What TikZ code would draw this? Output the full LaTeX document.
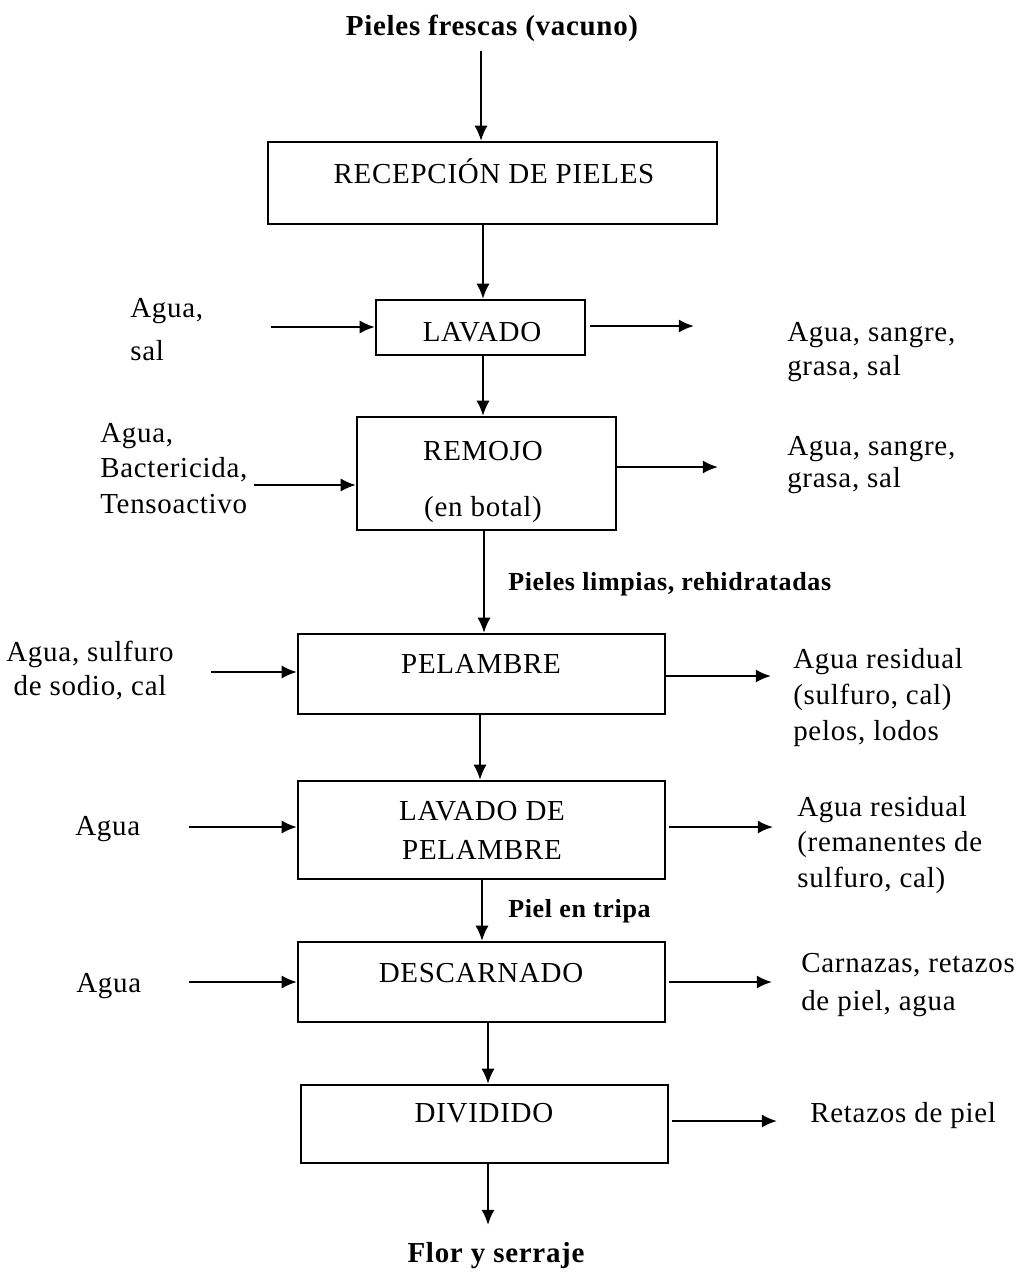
\documentclass[tikz,border=0pt]{standalone}
\usepackage{fontspec}
\setmainfont{Liberation Serif}[LetterSpace=2.5]
\usetikzlibrary{arrows.meta}
\newcommand{\txtsz}[1]{\fontsize{20.6pt}{#1}\selectfont}
\newcommand{\smallbold}{\fontsize{18.5pt}{22pt}\selectfont\bfseries}
\begin{document}
\begin{tikzpicture}[x=0.025cm, y=-0.025cm,
  proc/.style={draw, line width=1.5pt, inner sep=0pt},
  boxtxt/.style={font=\txtsz{25.6pt}, align=center, anchor=base, inner sep=0pt},
  side/.style={font=\txtsz{#1}, align=left, anchor=base west, inner sep=0pt},
  sidec/.style={font=\txtsz{#1}, align=center, anchor=base, inner sep=0pt},
  flowlbl/.style={font=\smallbold, anchor=base west, inner sep=0pt},
  endlbl/.style={font=\txtsz{25pt}\bfseries, anchor=base, inner sep=0pt},
  arr/.style={line width=1.6pt, -{Latex[length=0.38cm,width=0.33cm]}}
]
\useasboundingbox (0,0) rectangle (1015,1272);

% ---- process boxes ----
\node[proc, minimum width=11.225cm, minimum height=2.05cm] (rec) at (492.5,183) {};
\node[proc, minimum width=5.225cm,  minimum height=1.375cm] (lav) at (480.5,327.5) {};
\node[proc, minimum width=6.475cm,  minimum height=2.825cm] (rem) at (486.5,473.5) {};
\node[proc, minimum width=9.175cm,  minimum height=2.0cm]   (pel) at (481.5,674) {};
\node[proc, minimum width=9.175cm,  minimum height=2.45cm]  (lvp) at (481.5,830) {};
\node[proc, minimum width=9.175cm,  minimum height=2.0cm]   (des) at (481.5,982) {};
\node[proc, minimum width=9.175cm,  minimum height=1.95cm]  (div) at (484.5,1124) {};

% ---- box captions (base anchor = baseline of the last line) ----
\node[boxtxt] (recT) at (494,183) {RECEPCIÓN DE PIELES};
\node[boxtxt] (lavT) at (482,341) {LAVADO};
\node[boxtxt] (remT) at (483,516) {REMOJO\\[0.5cm](en botal)};
\node[boxtxt] (pelT) at (481,673) {PELAMBRE};
\node[boxtxt, font=\txtsz{27.7pt}] (lvpT) at (482,859) {LAVADO DE\\PELAMBRE};
\node[boxtxt] (desT) at (481,982) {DESCARNADO};
\node[boxtxt] (divT) at (484,1122) {DIVIDIDO};

% ---- main flow ----
\node[endlbl] (src) at (492,35) {Pieles frescas (vacuno)};
\node[endlbl] (prod) at (496,1262) {Flor y serraje};

\coordinate (c0) at (481,0);
\coordinate (c1) at (483,0);
\coordinate (c2) at (484,0);
\coordinate (c3) at (480,0);
\coordinate (c4) at (482,0);
\coordinate (c5) at (488,0);
\coordinate (endB) at (488,1225);

\draw[arr, shorten <=0.25cm] (c0 |- src.south) -- (c0 |- rec.north);
\draw[arr] (c1 |- rec.south) -- (c1 |- lav.north);
\draw[arr] (c1 |- lav.south) -- (c1 |- rem.north);
\draw[arr] (c2 |- rem.south) -- (c2 |- pel.north);
\draw[arr] (c3 |- pel.south) -- (c3 |- lvp.north);
\draw[arr] (c4 |- lvp.south) -- (c4 |- des.north);
\draw[arr] (c5 |- des.south) -- (c5 |- div.north);
\draw[arr] (c5 |- div.south) -- (endB);

\node[flowlbl] (lblA) at (508,590) {Pieles limpias, rehidratadas};
\node[flowlbl] (lblB) at (508,917) {Piel en tripa};

% ---- inputs ----
\node[side=29.9pt] (inLav) at (130,360) {Agua,\\sal};
\coordinate (inLavS) at (271,327);
\draw[arr] (inLavS) -- (inLavS -| lav.west);

\node[side=24.9pt] (inRem) at (100,513) {Agua,\\Bactericida,\\Tensoactivo};
\coordinate (inRemS) at (254,485);
\draw[arr] (inRemS) -- (inRemS -| rem.west);

\node[sidec=23.5pt] (inPel) at (90,695) {Agua, sulfuro\\de sodio, cal};
\coordinate (inPelS) at (211,672);
\draw[arr] (inPelS) -- (inPelS -| pel.west);

\node[side=25pt] (inLvp) at (75,835) {Agua};
\coordinate (inLvpS) at (189,827);
\draw[arr] (inLvpS) -- (inLvpS -| lvp.west);

\node[side=25pt] (inDes) at (76,992) {Agua};
\coordinate (inDesS) at (189,982);
\draw[arr] (inDesS) -- (inDesS -| des.west);

% ---- outputs ----
\coordinate (outLavE) at (694,326);
\draw[arr] (outLavE -| lav.east) ++(4,0) -- (outLavE);
\node[side=23.5pt] (outLav) at (787,375) {Agua, sangre,\\grasa, sal};

\coordinate (outRemE) at (718,467);
\draw[arr] (outRemE -| rem.east) -- (outRemE);
\node[side=22.5pt] (outRem) at (787,487) {Agua, sangre,\\grasa, sal};

\coordinate (outPelE) at (771,676);
\draw[arr] (outPelE -| pel.east) -- (outPelE);
\node[side=25.6pt] (outPel) at (793,740) {Agua residual\\(sulfuro, cal)\\pelos, lodos};

\coordinate (outLvpE) at (773,827);
\draw[arr] (outLvpE -| lvp.east) ++(3,0) -- (outLvpE);
\node[side=24.9pt] (outLvp) at (797,887) {Agua residual\\(remanentes de\\sulfuro, cal)};

\coordinate (outDesE) at (772,982);
\draw[arr] (outDesE -| des.east) ++(3,0) -- (outDesE);
\node[side=27pt] (outDes) at (801,1010) {Carnazas, retazos\\de piel, agua};

\coordinate (outDivE) at (777,1121);
\draw[arr] (outDivE -| div.east) ++(3,0) -- (outDivE);
\node[side=25pt] (outDiv) at (810,1122) {Retazos de piel};
\end{tikzpicture}
\end{document}
